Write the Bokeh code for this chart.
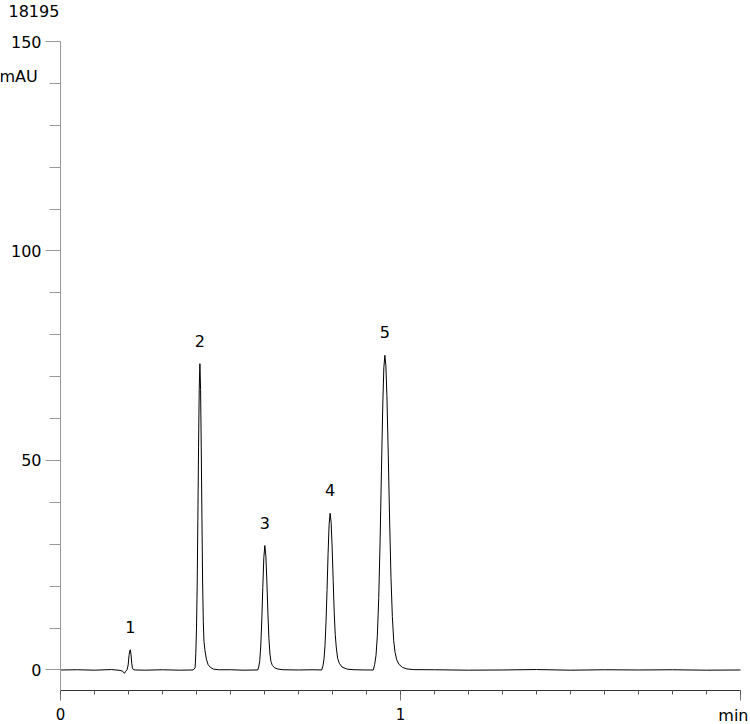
from bokeh.plotting import figure
from bokeh.models import Range1d, SingleIntervalTicker, Label, ColumnDataSource
from bokeh.core.properties import value
from bokeh.embed import file_html
from bokeh.resources import INLINE

# ---- data ----
time_min = [
    0.000, 0.050, 0.100, 0.150, 0.175, 0.183, 0.188, 0.192, 0.196, 0.199, 0.2015, 0.204, 0.2055, 0.2075, 0.2095, 0.2115, 0.214, 0.220,
    0.250, 0.300, 0.350, 0.390,
    0.396, 0.398, 0.400, 0.402, 0.404, 0.406, 0.408, 0.410, 0.412, 0.414, 0.416, 0.418, 0.420, 0.422, 0.425, 0.429, 0.434, 0.441, 0.450, 0.465,
    0.500, 0.540, 0.580,
    0.583, 0.586, 0.589, 0.592, 0.595, 0.598, 0.601, 0.604, 0.607, 0.610, 0.613, 0.616, 0.619, 0.623, 0.630, 0.640, 0.655,
    0.700, 0.740, 0.768,
    0.772, 0.775, 0.778, 0.781, 0.784, 0.787, 0.790, 0.793, 0.796, 0.799, 0.802, 0.805, 0.808, 0.811, 0.815, 0.820, 0.828, 0.843, 0.863,
    0.900, 0.920,
    0.924, 0.928, 0.932, 0.936, 0.940, 0.944, 0.948, 0.951, 0.954, 0.957, 0.960, 0.964, 0.968, 0.972, 0.976, 0.980, 0.984, 0.989, 0.996, 1.006, 1.019, 1.039,
    1.100, 1.200, 1.300, 1.400, 1.500, 1.600, 1.700, 1.800, 1.900, 2.000,
]
absorbance_mau = [
    0.0, 0.05, -0.05, 0.1, -0.1, -0.3, -0.8, -0.3, 0.1, 1.2, 3.4, 4.7, 4.8, 3.6, 1.6, 0.5, 0.1, 0.0,
    -0.05, 0.05, -0.05, 0.0,
    0.5, 4.0, 10.0, 20.0, 36.0, 53.0, 67.0, 73.1, 67.0, 53.0, 36.0, 21.0, 11.5, 6.8, 4.6, 2.6, 1.3, 0.6, 0.2, 0.05,
    0.05, -0.05, 0.0,
    0.7, 2.2, 5.7, 11.7, 19.7, 26.8, 29.7, 27.2, 21.0, 13.6, 7.5, 3.8, 2.0, 1.1, 0.5, 0.2, 0.05,
    0.0, 0.05, 0.0,
    1.0, 2.6, 5.9, 11.5, 19.2, 27.8, 34.7, 37.4, 35.2, 29.1, 21.4, 13.8, 8.5, 5.5, 2.8, 1.6, 0.7, 0.2, 0.05,
    0.0, 0.0,
    1.3, 3.5, 8.3, 17.3, 30.8, 47.7, 63.7, 72.1, 75.1, 72.6, 65.5, 51.5, 35.8, 22.1, 12.8, 7.0, 4.2, 2.4, 1.3, 0.6, 0.25, 0.08,
    0.05, -0.05, 0.0, 0.1, -0.05, 0.05, 0.0, 0.05, -0.05, 0.0,
]
peak_labels = ["1", "2", "3", "4", "5"]
peak_time = [0.2055, 0.410, 0.601, 0.793, 0.954]
peak_height = [4.8, 73.1, 29.7, 37.4, 75.1]

x_tick_labels = {0: "0", 1: "1", 2: ""}
X_MIN, X_MAX = 0.0, 2.0
Y_MIN, Y_MAX = -4.9, 150.0
FONT = "DejaVu Sans"

# pixel geometry of the plotting area inside the 750x724 canvas
W, H = 750, 724
LEFT, RIGHT, TOP, BOTTOM = 60, 740, 41, 690
px_x = (RIGHT - LEFT) / (X_MAX - X_MIN)
px_y = (BOTTOM - TOP) / (Y_MAX - Y_MIN)
xr = Range1d(X_MIN - LEFT / px_x, X_MAX + (W - RIGHT) / px_x)
yr = Range1d(Y_MIN - (H - BOTTOM) / px_y, Y_MAX + TOP / px_y)

p = figure(width=W, height=H, output_backend="svg", toolbar_location=None,
           x_range=xr, y_range=yr,
           min_border_left=0, min_border_right=0, min_border_top=0, min_border_bottom=0)
p.outline_line_color = None
p.xgrid.visible = False
p.ygrid.visible = False
p.background_fill_color = "white"
p.border_fill_color = "white"

p.line(time_min, absorbance_mau, line_color="black", line_width=1)

src = ColumnDataSource(dict(x=peak_time, y=peak_height, t=peak_labels))
p.text(x="x", y="y", text="t", source=src, text_font=value(FONT), text_font_size="16px",
       text_align="center", text_baseline="alphabetic", y_offset=-23, text_color="black")

# y axis
ya = p.yaxis[0]
ya.fixed_location = X_MIN
ya.bounds = (Y_MIN, Y_MAX)
ya.ticker = SingleIntervalTicker(interval=50, num_minor_ticks=5)
ya.axis_line_color = "#999999"
ya.major_tick_line_color = "#999999"
ya.minor_tick_line_color = "#999999"
ya.major_tick_out = 15
ya.major_tick_in = 0
ya.minor_tick_out = 11
ya.minor_tick_in = 0
ya.major_label_standoff = 4
ya.major_label_text_font = FONT
ya.major_label_text_font_size = "16px"
ya.major_label_text_color = "black"

# x axis
xa = p.xaxis[0]
xa.fixed_location = Y_MIN
xa.bounds = (X_MIN, X_MAX)
xa.ticker = SingleIntervalTicker(interval=1, num_minor_ticks=10)
xa.major_label_overrides = x_tick_labels
xa.axis_line_color = "#333333"
xa.major_tick_line_color = "#777777"
xa.minor_tick_line_color = "#555555"
xa.major_tick_out = 10
xa.major_tick_in = 0
xa.minor_tick_out = 4
xa.minor_tick_in = 0
xa.major_label_standoff = 7
xa.major_label_text_font = FONT
xa.major_label_text_font_size = "15px"
xa.major_label_text_color = "black"

p.add_layout(Label(x=X_MIN, y=Y_MAX, x_offset=-52, y_offset=31, text="18195", text_font=FONT,
                   text_font_size="16px", text_align="left", text_baseline="alphabetic", text_color="black"))
p.add_layout(Label(x=X_MIN, y=Y_MAX, x_offset=-61, y_offset=-35, text="mAU", text_font=FONT,
                   text_font_size="16px", text_align="left", text_baseline="alphabetic", text_color="black"))
p.add_layout(Label(x=X_MAX, y=Y_MIN, x_offset=8, y_offset=-25, text="min", text_font=FONT,
                   text_font_size="16px", text_align="right", text_baseline="alphabetic", text_color="black"))

open("out.html", "w").write(file_html(p, INLINE))
